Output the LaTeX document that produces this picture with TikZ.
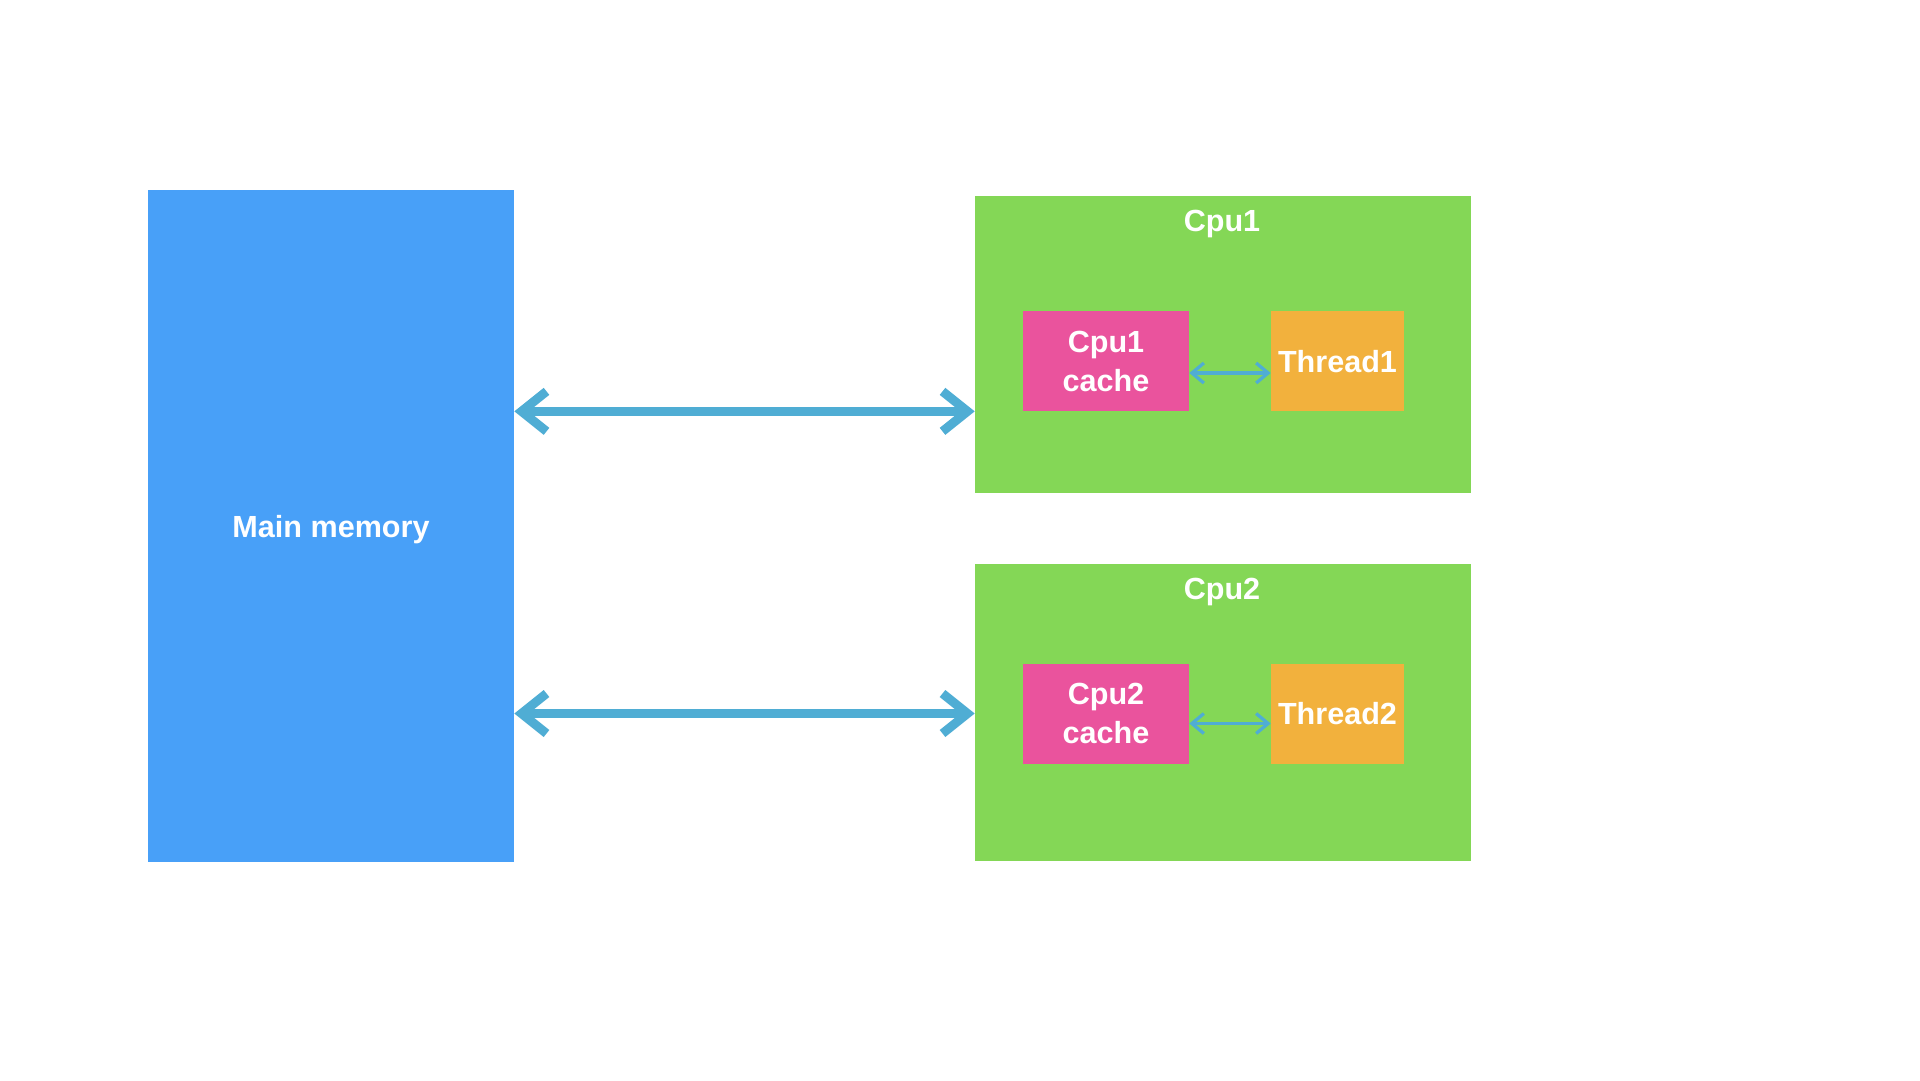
\documentclass[tikz,border=0pt]{standalone}
\usepackage{fontspec}
\setmainfont{Liberation Sans}
\usetikzlibrary{arrows.meta}
\definecolor{memblue}{HTML}{48A0F8}
\definecolor{cpugreen}{HTML}{84D756}
\definecolor{cachepink}{HTML}{EA539D}
\definecolor{threadorange}{HTML}{F2B13D}
\definecolor{busblue}{HTML}{4FADD4}

\begin{document}
\begin{tikzpicture}[x=0.02cm,y=-0.02cm,
    box/.style={inner sep=0pt,text=white,align=center,text depth=0pt,
        font=\fontsize{17.4}{22.2}\selectfont\bfseries},
    bus/.style={busblue,line width=0.18cm,
        {Straight Barb[length=0.5cm,width=0.8cm]}-{Straight Barb[length=0.5cm,width=0.8cm]}},
    link/.style={busblue,line width=0.065cm,
        {Straight Barb[length=0.24cm,width=0.4cm]}-{Straight Barb[length=0.24cm,width=0.4cm]}}]
    \useasboundingbox (0,0) rectangle (1920,1080);
    \node[box,fill=memblue,minimum width=7.32cm,minimum height=13.44cm] (mem) at (331,526) {Main memory};
    \node[box,fill=cpugreen,minimum width=9.92cm,minimum height=5.94cm] (cpu1) at (1223,344.5) {};
    \node[box,fill=cpugreen,minimum width=9.92cm,minimum height=5.94cm] (cpu2) at (1223,712.5) {};
    \node[box] (cpu1label) at (1222,221) {Cpu1};
    \node[box] (cpu2label) at (1222,589) {Cpu2};
    \node[box,fill=cachepink,minimum width=3.32cm,minimum height=2cm] (c1cache) at (1106,361) {Cpu1\\cache};
    \node[box,fill=threadorange,minimum width=2.66cm,minimum height=2cm] (thread1) at (1337.5,361) {Thread1};
    \node[box,fill=cachepink,minimum width=3.32cm,minimum height=2cm] (c2cache) at (1106,713.5) {Cpu2\\cache};
    \node[box,fill=threadorange,minimum width=2.66cm,minimum height=2cm] (thread2) at (1337.5,713.5) {Thread2};
    \draw[bus] (mem.east |- c1cache.south) -- (cpu1.west |- c1cache.south);
    \draw[bus] (mem.east |- c2cache) -- (cpu2.west |- c2cache);
    \draw[link] ([yshift=-0.24cm]c1cache.east) -- ([yshift=-0.24cm]thread1.west);
    \draw[link] ([yshift=-0.2cm]c2cache.east) -- ([yshift=-0.2cm]thread2.west);
\end{tikzpicture}
\end{document}
